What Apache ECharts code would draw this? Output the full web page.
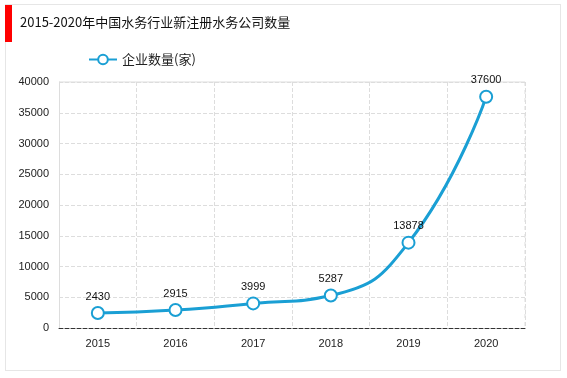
<!DOCTYPE html>
<html><head><meta charset="utf-8">
<script src="https://cdn.jsdelivr.net/npm/echarts@6/dist/echarts.min.js"></script>
<style>html,body{margin:0;padding:0;background:#fff}#frame{position:absolute;left:5px;top:4px;width:556px;height:367px;border:1px solid #e6e6e6;box-sizing:border-box}#bar{position:absolute;left:5px;top:5px;width:7px;height:37px;background:#f00}#c{position:absolute;left:0;top:0;width:567px;height:378px}</style>
</head><body>
<div id="frame"></div><div id="bar"></div>
<div id="c"></div>
<script>
const title = '2015-2020年中国水务行业新注册水务公司数量';
const seriesName = '企业数量(家)';
const years = ['2015','2016','2017','2018','2019','2020'];
const counts = [2430, 2915, 3999, 5287, 13878, 37600];

const chart = echarts.init(document.getElementById('c'));
chart.setOption({
  animation: false,
  title: { text: title, left: 15, top: 11, textStyle: { fontSize: 13, fontWeight: 'normal', color: '#111', fontFamily: 'Noto Sans CJK SC' } },
  legend: { data: [seriesName], left: 83, top: 48, itemWidth: 28, itemHeight: 12, itemGap: 4, textStyle: { fontSize: 13, color: '#222', fontFamily: 'Noto Sans CJK SC' } },
  grid: { left: 59, right: 42, top: 82, bottom: 50 },
  xAxis: {
    type: 'category', data: years, boundaryGap: true,
    axisLine: { lineStyle: { color: '#333', type: 'dashed' } },
    axisTick: { show: false },
    axisLabel: { color: '#222', fontSize: 11, margin: 10, fontFamily: 'Arial' },
    splitLine: { show: true, lineStyle: { color: '#ddd', type: 'dashed' } }
  },
  yAxis: {
    type: 'value', min: 0, max: 40000, interval: 5000,
    axisLine: { show: true, lineStyle: { color: '#ddd' } },
    axisTick: { show: false },
    axisLabel: { color: '#222', fontSize: 11, margin: 10, fontFamily: 'Arial', formatter: v => String(v) },
    splitLine: { lineStyle: { color: '#ddd', type: 'dashed' } }
  },
  series: [{
    name: seriesName, type: 'line', data: counts, smooth: 0.5,
    symbol: 'emptyCircle', symbolSize: 12,
    lineStyle: { color: '#1a9fd4', width: 3 },
    itemStyle: { color: '#1a9fd4', borderWidth: 2.5 },
    label: { show: true, position: 'top', distance: 4, color: '#111', fontSize: 11, fontFamily: 'Arial' }
  }],
  graphic: [{ type: 'line', shape: { x1: 525, y1: 82, x2: 525, y2: 328 }, style: { stroke: '#ddd', lineDash: [4, 4] } },
            { type: 'line', shape: { x1: 59, y1: 82, x2: 525, y2: 82 }, style: { stroke: '#ddd' } }]
});
</script>
</body></html>
